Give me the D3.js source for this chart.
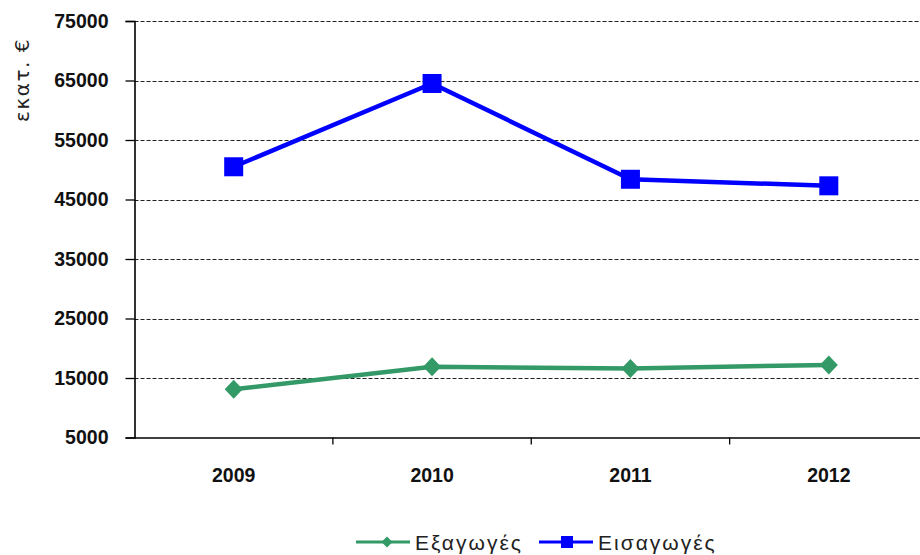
<!DOCTYPE html>
<html>
<head>
<meta charset="utf-8">
<script src="https://cdn.jsdelivr.net/npm/d3@7"></script>
<style>
  html, body { margin: 0; padding: 0; background: #fff; }
  svg { display: block; }
</style>
</head>
<body>
<svg id="chart" width="920" height="555"></svg>
<script>
// Years on the category axis
const years = ["2009", "2010", "2011", "2012"];
// Exports, million €
const exportsValues = [13100, 16900, 16600, 17200];
// Imports, million €
const importsValues = [50500, 64500, 48400, 47300];
// Value axis ticks
const yTicks = [5000, 15000, 25000, 35000, 45000, 55000, 65000, 75000];
const seriesNames = ["Εξαγωγές", "Εισαγωγές"];
const yLabel = "εκατ. €";

const svg = d3.select("#chart");
const W = 920, H = 555;
const plotLeft = 134.5, plotRight = 928, plotTop = 21, plotBottom = 437.5;

const x = d3.scaleBand().domain(years).range([plotLeft, plotRight]);
const y = d3.scaleLinear().domain([5000, 75000]).range([plotBottom, plotTop]);

const green = "#339966", blue = "#0000ff";

// Horizontal dashed gridlines
svg.append("g")
  .selectAll("line")
  .data(yTicks.filter(t => t !== 5000))
  .join("line")
  .attr("x1", plotLeft).attr("x2", W)
  .attr("y1", d => Math.round(y(d)) + 0.5).attr("y2", d => Math.round(y(d)) + 0.5)
  .attr("stroke", "#222")
  .attr("stroke-width", 1.1)
  .attr("stroke-dasharray", "4,2");

// Value axis
const yAxis = d3.axisLeft(y).tickValues(yTicks).tickSize(9).tickPadding(17).tickFormat(d3.format("d"));
const gy = svg.append("g").attr("transform", `translate(${plotLeft},0)`).call(yAxis);
gy.select(".domain").attr("stroke", "#000").attr("stroke-width", 1.6);
gy.selectAll(".tick line").attr("stroke", "#000").attr("stroke-width", 1.3);
gy.selectAll(".tick text")
  .attr("fill", "#111")
  .style("font-family", "'Liberation Sans', Arial, sans-serif")
  .style("font-weight", "bold")
  .style("font-size", "19.5px");

// Category axis
const xAxis = d3.axisBottom(x).tickSize(0).tickPadding(31);
const gx = svg.append("g").attr("transform", `translate(0,${plotBottom})`).call(xAxis);
gx.select(".domain").attr("stroke", "#000").attr("stroke-width", 1.6);
gx.selectAll(".tick text")
  .attr("fill", "#111")
  .style("font-family", "'Liberation Sans', Arial, sans-serif")
  .style("font-weight", "bold")
  .style("font-size", "19.5px");
// Tick marks between categories
svg.append("g")
  .selectAll("line")
  .data(years.slice(1))
  .join("line")
  .attr("x1", d => x(d)).attr("x2", d => x(d))
  .attr("y1", plotBottom).attr("y2", plotBottom + 7)
  .attr("stroke", "#000").attr("stroke-width", 1.3);

// Rotated axis title
svg.append("text")
  .attr("transform", "translate(29,80) rotate(-90)")
  .attr("text-anchor", "middle")
  .attr("fill", "#222")
  .style("font-family", "'DejaVu Sans', sans-serif")
  .style("font-size", "20px")
  .style("letter-spacing", "1.5px")
  .text(yLabel);

const cx = d => x(d) + x.bandwidth() / 2;
const line = d3.line().x(d => cx(d.year)).y(d => y(d.value));

const exportsData = years.map((yr, i) => ({ year: yr, value: exportsValues[i] }));
const importsData = years.map((yr, i) => ({ year: yr, value: importsValues[i] }));

// Exports line with diamond markers
svg.append("path").datum(exportsData)
  .attr("d", line).attr("fill", "none")
  .attr("stroke", green).attr("stroke-width", 4.5).attr("stroke-linejoin", "round");
svg.append("g").selectAll("path").data(exportsData).join("path")
  .attr("transform", d => `translate(${cx(d.year)},${y(d.value)})`)
  .attr("d", "M0,-9.5L9,0L0,9.5L-9,0Z")
  .attr("fill", green);

// Imports line with square markers
svg.append("path").datum(importsData)
  .attr("d", line).attr("fill", "none")
  .attr("stroke", blue).attr("stroke-width", 4.5).attr("stroke-linejoin", "round");
svg.append("g").selectAll("rect").data(importsData).join("rect")
  .attr("x", d => cx(d.year) - 9.5).attr("y", d => y(d.value) - 9.5)
  .attr("width", 19).attr("height", 19)
  .attr("fill", blue);

// Legend
const legend = [
  { name: seriesNames[0], color: green, shape: "diamond", x0: 356 },
  { name: seriesNames[1], color: blue, shape: "square", x0: 539 }
];
const ly = 542;
const lg = svg.append("g").selectAll("g").data(legend).join("g")
  .attr("transform", d => `translate(${d.x0},${ly})`);
lg.append("line").attr("x1", 0).attr("x2", 54).attr("y1", 0).attr("y2", 0)
  .attr("stroke", d => d.color).attr("stroke-width", 3);
lg.filter(d => d.shape === "diamond").append("path")
  .attr("transform", "translate(31,0)")
  .attr("d", "M0,-5.5L5.5,0L0,5.5L-5.5,0Z")
  .attr("fill", d => d.color);
lg.filter(d => d.shape === "square").append("rect")
  .attr("x", 22).attr("y", -6).attr("width", 12).attr("height", 12)
  .attr("fill", d => d.color);
lg.append("text")
  .attr("x", 59).attr("y", 7.5)
  .attr("fill", "#222")
  .style("font-family", "'Liberation Sans', Arial, sans-serif")
  .style("font-size", "21px")
  .style("letter-spacing", "2px")
  .text(d => d.name);
</script>
</body>
</html>
